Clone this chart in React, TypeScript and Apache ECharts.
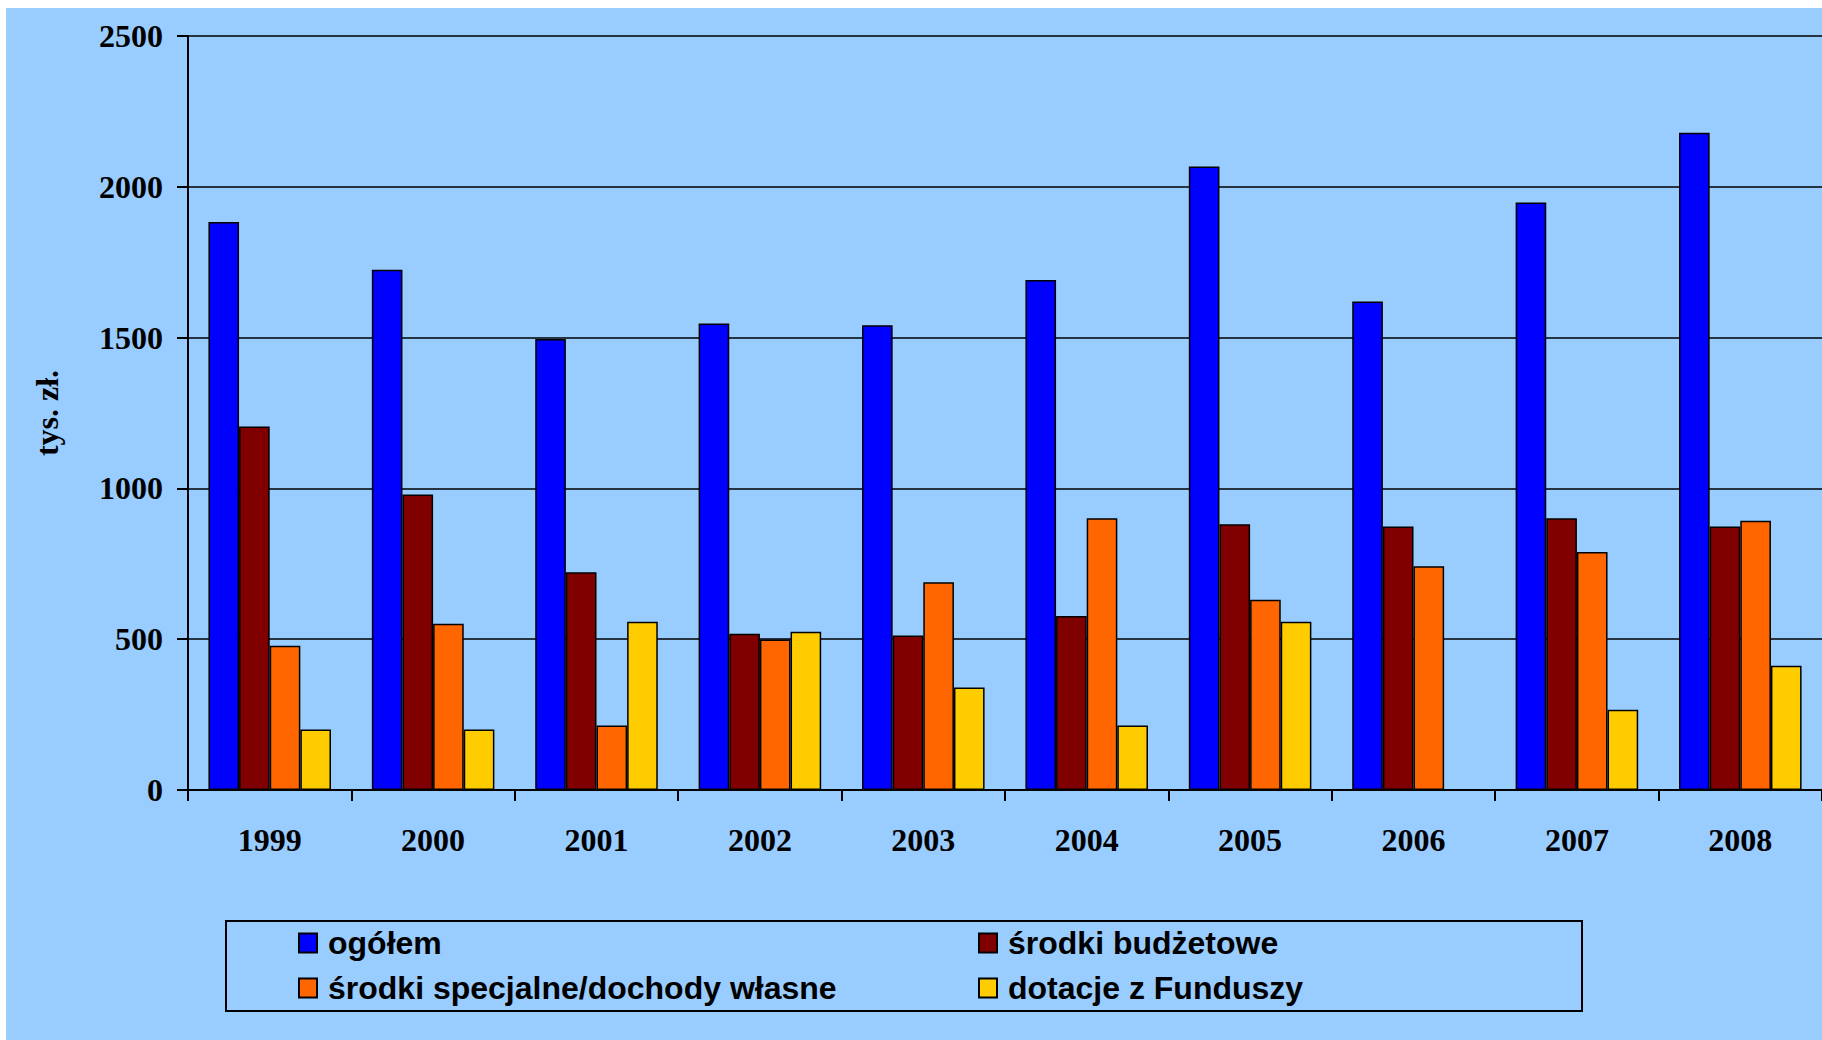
import React, { useEffect, useRef } from "react";
import * as echarts from "echarts";

const categories = ["1999", "2000", "2001", "2002", "2003", "2004", "2005", "2006", "2007", "2008"];
const ogolem = [1883, 1725, 1495, 1547, 1541, 1691, 2067, 1620, 1948, 2179];
const budzetowe = [1205, 980, 722, 518, 512, 577, 881, 874, 901, 874];
const specjalne = [478, 551, 214, 499, 689, 901, 631, 742, 789, 893];
const dotacje = [201, 201, 558, 525, 340, 214, 558, 0, 266, 412];

const seriesNames = ["ogółem", "środki budżetowe", "środki specjalne/dochody własne", "dotacje z Funduszy"];
const seriesColors = ["#0000FF", "#800000", "#FF6600", "#FFCC00"];
const seriesData = [ogolem, budzetowe, specjalne, dotacje];

const yMin = 0;
const yMax = 2500;
const yInterval = 500;

export default function App() {
  const ref = useRef<HTMLDivElement>(null);
  useEffect(() => {
    if (!ref.current) return;
    const chart = echarts.init(ref.current, undefined, { renderer: "svg" });
    const legendPos = [
      { left: 292, top: 917 },
      { left: 972, top: 917 },
      { left: 292, top: 962 },
      { left: 972, top: 962 },
    ];
    const option: any = {
      animation: false,
      backgroundColor: "#99CCFF",
      grid: { left: 182, top: 28, right: 0, bottom: 250, containLabel: false },
      xAxis: {
        type: "category",
        data: categories,
        boundaryGap: true,
        axisLine: { show: true, lineStyle: { color: "#000", width: 2 } },
        axisTick: { show: true, alignWithLabel: false, length: 11, inside: false, lineStyle: { color: "#000", width: 2 } },
        axisLabel: {
          margin: 34,
          color: "#000",
          fontFamily: "'Liberation Serif', 'Times New Roman', serif",
          fontWeight: "bold",
          fontSize: 32,
        },
        splitLine: { show: false },
      },
      yAxis: {
        type: "value",
        min: yMin,
        max: yMax,
        interval: yInterval,
        name: "tys. zł.",
        nameLocation: "middle",
        nameGap: 125,
        nameRotate: 90,
        nameTextStyle: {
          color: "#000",
          fontFamily: "'Liberation Serif', 'Times New Roman', serif",
          fontWeight: "bold",
          fontSize: 32,
        },
        axisLine: { show: true, lineStyle: { color: "#000", width: 2 } },
        axisTick: { show: true, length: 11, lineStyle: { color: "#000", width: 2 } },
        axisLabel: {
          margin: 25,
          color: "#000",
          fontFamily: "'Liberation Serif', 'Times New Roman', serif",
          fontWeight: "bold",
          fontSize: 32,
          formatter: (v: number) => String(v),
        },
        splitLine: { show: true, lineStyle: { color: "#000", width: 1.5 } },
      },
      legend: seriesNames.map((name, i) => ({
        data: [name],
        left: legendPos[i].left,
        top: legendPos[i].top,
        padding: 0,
        orient: "horizontal",
        icon: "rect",
        itemWidth: 18,
        itemHeight: 19,
        selectedMode: false,
        itemStyle: { borderColor: "#000", borderWidth: 2 },
        textStyle: {
          color: "#000",
          fontFamily: "'Liberation Sans', Arial, sans-serif",
          fontWeight: "bold",
          fontSize: 32,
          lineHeight: 36,
          padding: [0, 0, 0, 6],
        },
      })),
      graphic: [
        {
          type: "rect",
          shape: { x: 220, y: 913, width: 1356, height: 90 },
          style: { fill: "none", stroke: "#000", lineWidth: 2 },
          silent: true,
        },
      ],
      series: seriesNames.map((name, i) => ({
        name,
        type: "bar",
        data: seriesData[i],
        barGap: "0%",
        barCategoryGap: "25%",
        itemStyle: { color: seriesColors[i], borderColor: "#000", borderWidth: 1.5 },
        emphasis: { disabled: true },
      })),
    };
    chart.setOption(option);
    return () => chart.dispose();
  }, []);
  return (
    <div
      ref={ref}
      style={{ position: "absolute", left: 6, top: 8, width: 1816, height: 1032 }}
    />
  );
}
